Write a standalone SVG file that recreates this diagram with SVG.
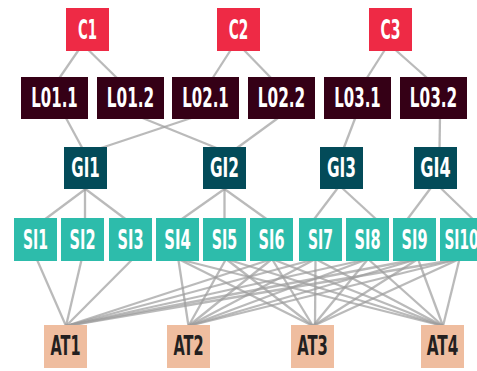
<svg xmlns="http://www.w3.org/2000/svg" width="477" height="371" viewBox="0 0 477 371">
<style>
.e{stroke:#9c9c9c;stroke-opacity:0.7;stroke-width:2.3;fill:none}
text{font-family:"Liberation Sans Narrow","DejaVu Sans Condensed","Liberation Sans",sans-serif;font-weight:bold;font-size:27px;text-anchor:middle;fill:#fff}
.c rect{fill:#ee2a45}
.l rect{fill:#350016}
.g rect{fill:#034b59}
.s rect{fill:#2dbcab}
.a rect{fill:#efbd9f}
.a text{fill:#231f20}
</style>
<rect width="477" height="371" fill="#fff"/>
<g id="connectors" class="e">
<line x1="80" y1="48" x2="58" y2="80"/>
<line x1="86.4" y1="48" x2="119" y2="80"/>
<line x1="232" y1="48" x2="211.4" y2="80"/>
<line x1="242" y1="48" x2="273" y2="80"/>
<line x1="386" y1="48" x2="365.6" y2="80"/>
<line x1="393.3" y1="48" x2="429.4" y2="80"/>
<line x1="64.9" y1="116" x2="83.3" y2="150"/>
<line x1="194.3" y1="117" x2="98" y2="149"/>
<line x1="140" y1="117" x2="219" y2="149"/>
<line x1="279.4" y1="117" x2="235.6" y2="149"/>
<line x1="356" y1="116" x2="343" y2="150"/>
<line x1="440" y1="116" x2="439.5" y2="150"/>
<line x1="88.2" y1="187" x2="44" y2="220"/>
<line x1="85" y1="187" x2="85" y2="220"/>
<line x1="82.8" y1="187" x2="126.7" y2="220"/>
<line x1="227.3" y1="187" x2="180.5" y2="220"/>
<line x1="224.5" y1="187" x2="224.5" y2="220"/>
<line x1="221.7" y1="187" x2="267.8" y2="220"/>
<line x1="338.5" y1="187" x2="313.5" y2="220"/>
<line x1="341" y1="187" x2="377" y2="220"/>
<line x1="431.5" y1="187" x2="406.8" y2="220"/>
<line x1="439.6" y1="187" x2="473.8" y2="220"/>
<line x1="36.7" y1="259" x2="66" y2="326"/>
<line x1="81.7" y1="259" x2="66" y2="326"/>
<line x1="132.7" y1="259" x2="66" y2="326"/>
<line x1="178.3" y1="259" x2="188.5" y2="326"/>
<line x1="178.3" y1="259" x2="313" y2="326"/>
<line x1="178.3" y1="259" x2="443" y2="326"/>
<line x1="226" y1="259" x2="188.5" y2="326"/>
<line x1="226" y1="259" x2="313" y2="326"/>
<line x1="226" y1="259" x2="443" y2="326"/>
<line x1="272" y1="259" x2="66" y2="326"/>
<line x1="272" y1="259" x2="188.5" y2="326"/>
<line x1="272" y1="259" x2="313" y2="326"/>
<line x1="272" y1="259" x2="443" y2="326"/>
<line x1="315.5" y1="259" x2="66" y2="326"/>
<line x1="315.5" y1="259" x2="188.5" y2="326"/>
<line x1="315.5" y1="259" x2="315" y2="326"/>
<line x1="315.5" y1="259" x2="443" y2="326"/>
<line x1="368" y1="259" x2="66" y2="326"/>
<line x1="368" y1="259" x2="188.5" y2="326"/>
<line x1="368" y1="259" x2="313" y2="326"/>
<line x1="368" y1="259" x2="443" y2="326"/>
<line x1="418" y1="259" x2="66" y2="326"/>
<line x1="418" y1="259" x2="188.5" y2="326"/>
<line x1="418" y1="259" x2="313" y2="326"/>
<line x1="418" y1="259" x2="443" y2="326"/>
<line x1="459.5" y1="259" x2="66" y2="326"/>
<line x1="459.5" y1="259" x2="188.5" y2="326"/>
<line x1="459.5" y1="259" x2="313" y2="326"/>
<line x1="459.5" y1="259" x2="443" y2="326"/>
</g>
<g id="C1" class="c"><rect x="66" y="8" width="43" height="43"/><text x="87.5" y="38.5" textLength="19" lengthAdjust="spacingAndGlyphs">C1</text></g>
<g id="C2" class="c"><rect x="217" y="8" width="43" height="43"/><text x="238.5" y="38.5" textLength="19.5" lengthAdjust="spacingAndGlyphs">C2</text></g>
<g id="C3" class="c"><rect x="369" y="8" width="43" height="43"/><text x="390.5" y="38.5" textLength="20" lengthAdjust="spacingAndGlyphs">C3</text></g>
<g id="L01.1" class="l"><rect x="21" y="77" width="67" height="42"/><text x="54.5" y="107" textLength="46.5" lengthAdjust="spacingAndGlyphs">L01.1</text></g>
<g id="L01.2" class="l"><rect x="97" y="77" width="67" height="42"/><text x="130.5" y="107" textLength="47.5" lengthAdjust="spacingAndGlyphs">L01.2</text></g>
<g id="L02.1" class="l"><rect x="172" y="77" width="67" height="42"/><text x="205.5" y="107" textLength="46.5" lengthAdjust="spacingAndGlyphs">L02.1</text></g>
<g id="L02.2" class="l"><rect x="248" y="77" width="67" height="42"/><text x="281.5" y="107" textLength="47.5" lengthAdjust="spacingAndGlyphs">L02.2</text></g>
<g id="L03.1" class="l"><rect x="324" y="77" width="67" height="42"/><text x="357.5" y="107" textLength="46.5" lengthAdjust="spacingAndGlyphs">L03.1</text></g>
<g id="L03.2" class="l"><rect x="400" y="77" width="67" height="42"/><text x="433.5" y="107" textLength="47.5" lengthAdjust="spacingAndGlyphs">L03.2</text></g>
<g id="GI1" class="g"><rect x="64" y="147" width="43" height="42"/><text x="85.5" y="177" textLength="28.5" lengthAdjust="spacingAndGlyphs">GI1</text></g>
<g id="GI2" class="g"><rect x="203" y="147" width="43" height="42"/><text x="224.5" y="177" textLength="29" lengthAdjust="spacingAndGlyphs">GI2</text></g>
<g id="GI3" class="g"><rect x="320" y="147" width="43" height="42"/><text x="341.5" y="177" textLength="29" lengthAdjust="spacingAndGlyphs">GI3</text></g>
<g id="GI4" class="g"><rect x="414" y="147" width="43" height="42"/><text x="435.5" y="177" textLength="30.5" lengthAdjust="spacingAndGlyphs">GI4</text></g>
<g id="SI1" class="s"><rect x="14" y="218" width="43" height="43"/><text x="35.5" y="248.5" textLength="25" lengthAdjust="spacingAndGlyphs">SI1</text></g>
<g id="SI2" class="s"><rect x="61" y="218" width="43" height="43"/><text x="82.5" y="248.5" textLength="26" lengthAdjust="spacingAndGlyphs">SI2</text></g>
<g id="SI3" class="s"><rect x="109" y="218" width="43" height="43"/><text x="130.5" y="248.5" textLength="26" lengthAdjust="spacingAndGlyphs">SI3</text></g>
<g id="SI4" class="s"><rect x="156" y="218" width="43" height="43"/><text x="177.5" y="248.5" textLength="26.5" lengthAdjust="spacingAndGlyphs">SI4</text></g>
<g id="SI5" class="s"><rect x="203" y="218" width="43" height="43"/><text x="224.5" y="248.5" textLength="25.5" lengthAdjust="spacingAndGlyphs">SI5</text></g>
<g id="SI6" class="s"><rect x="250" y="218" width="43" height="43"/><text x="271.5" y="248.5" textLength="26" lengthAdjust="spacingAndGlyphs">SI6</text></g>
<g id="SI7" class="s"><rect x="299" y="218" width="43" height="43"/><text x="320.5" y="248.5" textLength="25" lengthAdjust="spacingAndGlyphs">SI7</text></g>
<g id="SI8" class="s"><rect x="346" y="218" width="43" height="43"/><text x="367.5" y="248.5" textLength="26" lengthAdjust="spacingAndGlyphs">SI8</text></g>
<g id="SI9" class="s"><rect x="393" y="218" width="43" height="43"/><text x="414.5" y="248.5" textLength="26" lengthAdjust="spacingAndGlyphs">SI9</text></g>
<g id="SI10" class="s"><rect x="440" y="218" width="43" height="43"/><text x="461.5" y="248.5" textLength="34" lengthAdjust="spacingAndGlyphs">SI10</text></g>
<g id="AT1" class="a"><rect x="44" y="325" width="43" height="43"/><text x="65.5" y="355" textLength="30" lengthAdjust="spacingAndGlyphs">AT1</text></g>
<g id="AT2" class="a"><rect x="167" y="325" width="43" height="43"/><text x="188.5" y="355" textLength="30" lengthAdjust="spacingAndGlyphs">AT2</text></g>
<g id="AT3" class="a"><rect x="291" y="325" width="43" height="43"/><text x="312.5" y="355" textLength="30.5" lengthAdjust="spacingAndGlyphs">AT3</text></g>
<g id="AT4" class="a"><rect x="421" y="325" width="43" height="43"/><text x="442.5" y="355" textLength="31.5" lengthAdjust="spacingAndGlyphs">AT4</text></g>
</svg>
